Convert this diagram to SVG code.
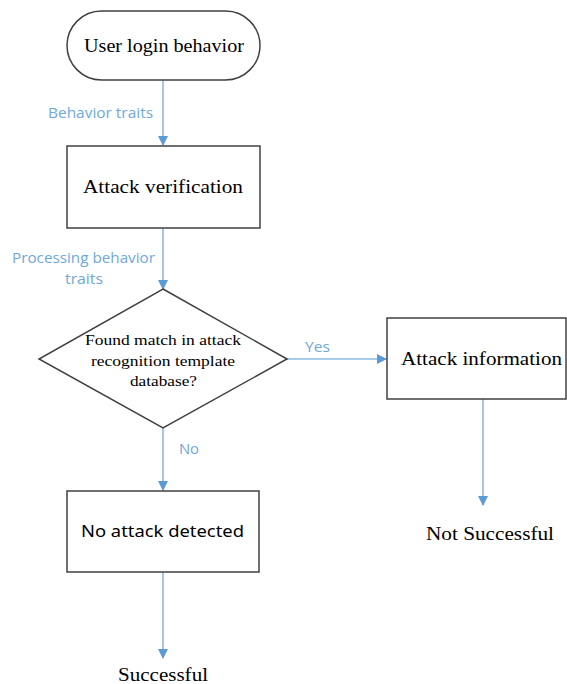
<svg xmlns="http://www.w3.org/2000/svg" width="567" height="684" viewBox="0 0 567 684">
<defs>
<marker id="ah" markerWidth="10" markerHeight="10" refX="9" refY="5" orient="auto" markerUnits="userSpaceOnUse">
<path d="M0,0 L10,5 L0,10 Z" fill="#5b9bd5"/>
</marker>
<style>
.box{fill:#fff;stroke:#404040;stroke-width:1.5}
.conn{stroke:#8dbbe3;stroke-width:1.6;fill:none;marker-end:url(#ah)}
.lbl{font-family:"Open Sans","Noto Sans",sans-serif;font-size:14px;fill:#6fa8dc}
.serif{font-family:"Liberation Serif",serif;fill:#000}
.sans{font-family:"Noto Sans","Liberation Sans",sans-serif;fill:#000}
</style>
</defs>
<rect width="567" height="684" fill="#fff"/>
<g id="connectors">
<line class="conn" x1="163" y1="80" x2="163" y2="145"/>
<line class="conn" x1="163" y1="228" x2="163" y2="289"/>
<line class="conn" x1="287" y1="359" x2="386" y2="359"/>
<line class="conn" x1="163" y1="428" x2="163" y2="490"/>
<line class="conn" x1="483" y1="399" x2="483" y2="505"/>
<line class="conn" x1="163" y1="572" x2="163" y2="658"/>
<text class="lbl" x="48" y="118" textLength="105" lengthAdjust="spacingAndGlyphs">Behavior traits</text>
<text class="lbl" x="12" y="263" textLength="143" lengthAdjust="spacingAndGlyphs">Processing behavior</text>
<text class="lbl" x="65" y="284" textLength="38" lengthAdjust="spacingAndGlyphs">traits</text>
<text class="lbl" x="305" y="352" textLength="25" lengthAdjust="spacingAndGlyphs">Yes</text>
<text class="lbl" x="179" y="454" textLength="20" lengthAdjust="spacingAndGlyphs">No</text>
</g>
<g id="start">
<rect class="box" x="67" y="11" width="193" height="69" rx="34.5" ry="34.5"/>
<text class="serif" x="84" y="52" font-size="19" textLength="160" lengthAdjust="spacingAndGlyphs">User login behavior</text>
</g>
<g id="verify">
<rect class="box" x="67" y="146" width="193" height="82"/>
<text class="serif" x="83" y="193" font-size="19" textLength="160" lengthAdjust="spacingAndGlyphs">Attack verification</text>
</g>
<g id="decision">
<polygon class="box" points="163,289 287,359 163,428 39,359"/>
<text class="serif" font-size="15.5"><tspan x="85" y="345" textLength="156" lengthAdjust="spacingAndGlyphs">Found match in attack</tspan><tspan x="91" y="366" textLength="144" lengthAdjust="spacingAndGlyphs">recognition template</tspan><tspan x="130" y="386" textLength="67" lengthAdjust="spacingAndGlyphs">database?</tspan></text>
</g>
<g id="attackinfo">
<rect class="box" x="387" y="318" width="179" height="81"/>
<text class="serif" x="401" y="365" font-size="19" textLength="161" lengthAdjust="spacingAndGlyphs">Attack information</text>
</g>
<g id="noattack">
<rect class="box" x="67" y="491" width="192" height="81"/>
<text class="sans" x="81" y="537" font-size="17" textLength="163" lengthAdjust="spacingAndGlyphs">No attack detected</text>
</g>
<g id="notsuccess">
<text class="serif" x="426" y="540" font-size="19" textLength="128" lengthAdjust="spacingAndGlyphs">Not Successful</text>
</g>
<g id="success">
<text class="serif" x="118" y="681" font-size="19" textLength="90" lengthAdjust="spacingAndGlyphs">Successful</text>
</g>
</svg>
